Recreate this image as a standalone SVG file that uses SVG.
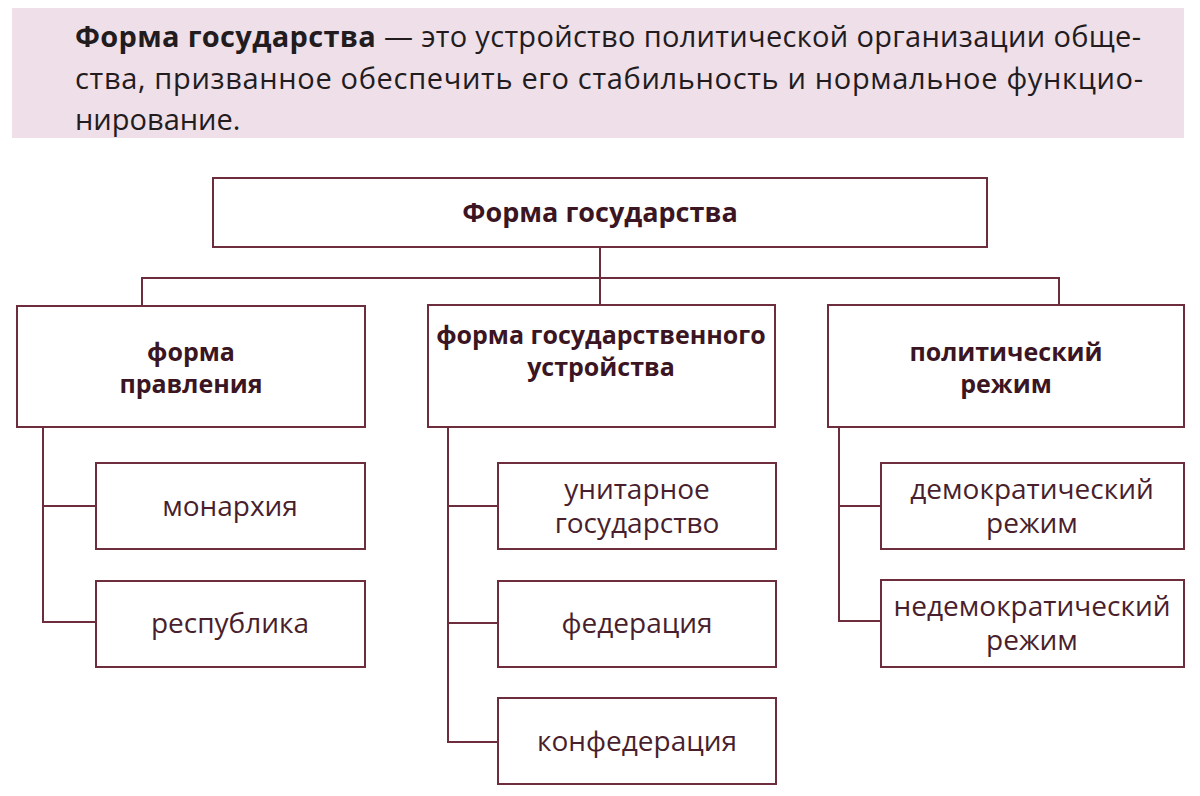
<svg xmlns="http://www.w3.org/2000/svg" width="1200" height="796" viewBox="0 0 1200 796">
<style>
.box{fill:#ffffff;stroke:#6e2d3d;stroke-width:2}
.ln{fill:none;stroke:#6e2d3d;stroke-width:2}
.b{font-family:"Open Sans","Noto Sans",sans-serif;font-weight:700;font-size:25px;fill:#3b1522;text-anchor:middle}
.t{font-size:27px}
.r{font-family:"Open Sans","Noto Sans",sans-serif;font-weight:400;font-size:28px;fill:#4a1f2d;text-anchor:middle}
.d{font-family:"Open Sans","Noto Sans",sans-serif;font-size:29px;fill:#221c1f}
</style>
<rect x="0" y="0" width="1200" height="796" fill="#ffffff"/>
<g id="definition">
<rect x="12" y="8" width="1172" height="130" fill="#efdfe8"/>
<text class="d" x="75" y="47" textLength="1066" lengthAdjust="spacing"><tspan font-weight="700">Форма государства</tspan> — это устройство политической организации обще-</text>
<text class="d" x="75" y="89" textLength="1068" lengthAdjust="spacing">ства, призванное обеспечить его стабильность и нормальное функцио-</text>
<text class="d" x="75" y="130">нирование.</text>
</g>
<g id="connectors">
<path class="ln" d="M600 247V278M142 306V278H1059V305M600 278V305"/>
<path class="ln" d="M43 427V622H96M43 506H96"/>
<path class="ln" d="M448 427V742H498M448 506H498M448 623H498"/>
<path class="ln" d="M839 427V621H881M839 506H881"/>
</g>
<g id="n-root">
<rect class="box" x="213" y="178" width="774" height="69"/>
<text class="b t" x="600" y="222">Форма государства</text>
</g>
<g id="n-pravlenie">
<rect class="box" x="17" y="306" width="348" height="121"/>
<text class="b" x="191" y="361">форма</text>
<text class="b" x="191" y="393">правления</text>
</g>
<g id="n-ustroistvo">
<rect class="box" x="428" y="305" width="347" height="122"/>
<text class="b" x="601" y="344">форма государственного</text>
<text class="b" x="601" y="376">устройства</text>
</g>
<g id="n-rezhim">
<rect class="box" x="828" y="305" width="356" height="122"/>
<text class="b" x="1006" y="361">политический</text>
<text class="b" x="1006" y="393">режим</text>
</g>
<g id="n-monarkhiya">
<rect class="box" x="96" y="463" width="269" height="86"/>
<text class="r" x="230" y="516">монархия</text>
</g>
<g id="n-respublika">
<rect class="box" x="96" y="581" width="269" height="86"/>
<text class="r" x="230" y="633">республика</text>
</g>
<g id="n-unitarnoe">
<rect class="box" x="498" y="463" width="278" height="86"/>
<text class="r" x="637" y="499">унитарное</text>
<text class="r" x="637" y="533">государство</text>
</g>
<g id="n-federatsiya">
<rect class="box" x="498" y="581" width="278" height="86"/>
<text class="r" x="637" y="633">федерация</text>
</g>
<g id="n-konfederatsiya">
<rect class="box" x="498" y="698" width="278" height="86"/>
<text class="r" x="637" y="751">конфедерация</text>
</g>
<g id="n-demokr">
<rect class="box" x="881" y="463" width="303" height="86"/>
<text class="r" x="1032" y="499">демократический</text>
<text class="r" x="1032" y="533">режим</text>
</g>
<g id="n-nedemokr">
<rect class="box" x="881" y="580" width="303" height="87"/>
<text class="r" x="1032" y="616">недемократический</text>
<text class="r" x="1032" y="650">режим</text>
</g>
</svg>
